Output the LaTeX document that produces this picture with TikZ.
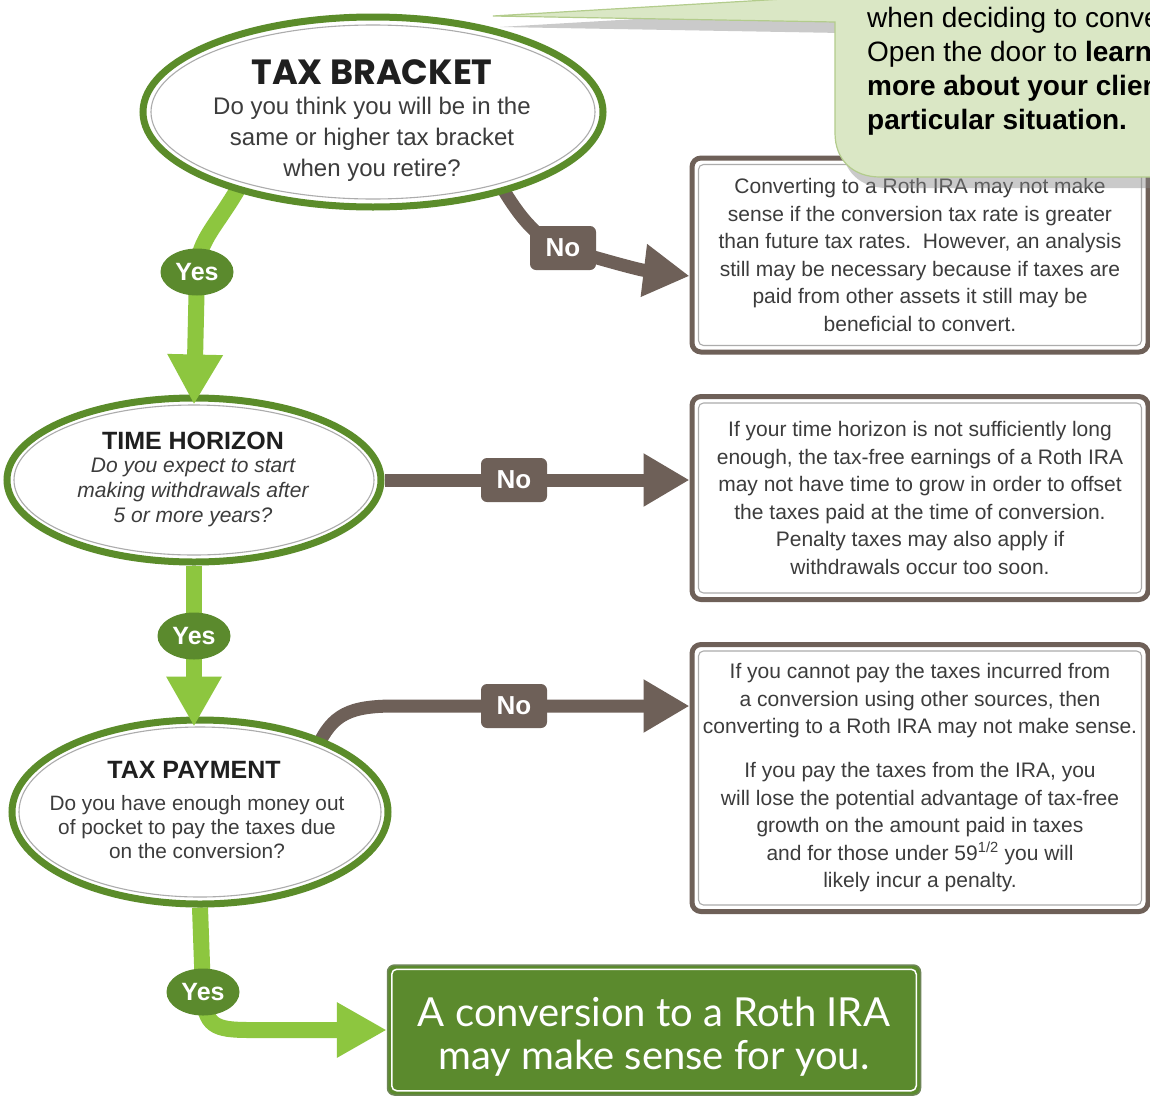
\documentclass[tikz,border=0pt]{standalone}
\usepackage{fontspec}
\setmainfont{Liberation Sans}
\newfontfamily\titlefont{Poppins}
\newfontfamily\finalfont{Lato}
\usetikzlibrary{arrows.meta,calc,shapes.geometric}
\pgfdeclarelayer{background}
\pgfdeclarelayer{front}
\pgfsetlayers{background,main,front}
\definecolor{dgreen}{HTML}{5B8C2A}
\definecolor{lgreen}{HTML}{8DC63F}
\definecolor{ygreen}{HTML}{5B8A2D}
\definecolor{brn}{HTML}{6E6058}
\definecolor{cfill}{HTML}{DAE7C5}
\definecolor{cline}{HTML}{B3CC8C}
\definecolor{shadowc}{HTML}{8A8A8A}
\definecolor{txt}{HTML}{3C3C3C}
\begin{document}
\begin{tikzpicture}[x=1pt,y=-1pt,
  qell/.style={ellipse, draw=dgreen, line width=7pt, fill=white, inner sep=0pt},
  ring/.style={draw=gray!65, line width=1.1pt},
  ttlA/.style={font=\titlefont\bfseries\fontsize{35}{35}\selectfont, text=black!88, inner sep=0pt},
  ttlB/.style={font=\bfseries\fontsize{25}{25}\selectfont, text=black!88, inner sep=0pt},
  qA/.style={font=\fontsize{24}{31}\selectfont, align=center, text=txt, inner sep=0pt},
  qB/.style={font=\itshape\fontsize{21}{25}\selectfont, align=center, text=txt, inner sep=0pt},
  qC/.style={font=\fontsize{20.8}{24}\selectfont, align=center, text=txt, inner sep=0pt},
  infobox/.style={rectangle, rounded corners=9pt, draw=brn, line width=5pt, fill=white,
     minimum width=456pt, align=center, text=txt, inner sep=0pt,
     font=\fontsize{21}{27.5}\selectfont},
  iring/.style={draw=gray!65, line width=1.1pt, rounded corners=5pt},
  yeslab/.style={ellipse, fill=ygreen, text=white, inner sep=0pt, minimum width=73pt,
     minimum height=47pt, font=\bfseries\fontsize{25}{25}\selectfont},
  nolab/.style={rectangle, rounded corners=6pt, fill=brn, text=white, inner sep=0pt,
     minimum width=66pt, minimum height=44pt, font=\bfseries\fontsize{26}{26}\selectfont},
  finalbox/.style={rectangle, rounded corners=7pt, fill=ygreen, draw=gray!50!ygreen,
     line width=1.5pt, minimum width=533pt, minimum height=130pt, inner sep=0pt},
  finaltext/.style={text=white, align=center, inner sep=0pt,
     font=\finalfont\fontsize{40}{43}\selectfont},
  gline/.style={draw=lgreen, line width=16pt},
  garrow/.style={draw=lgreen, line width=16pt, -{Triangle[length=50pt,width=52pt]}},
  bline/.style={draw=brn, line width=13pt},
  barrow/.style={draw=brn, line width=13pt, -{Triangle[length=46pt,width=50pt]}},
  ctext/.style={font=\fontsize{28}{34}\selectfont, text=black, inner sep=0pt, anchor=base west}
]
\useasboundingbox (0,0) rectangle (1150,1095);
\begin{pgfonlayer}{background}
  \fill[white] (0,0) rectangle (1150,1095);
\end{pgfonlayer}

% question ellipses
\node[qell, minimum width=460pt, minimum height=190pt] (tb) at (373,112) {};
\draw[ring] (tb.center) ellipse [x radius=222, y radius=87];
\node[qell, minimum width=374pt, minimum height=164pt] (th) at (194,480) {};
\draw[ring] (th.center) ellipse [x radius=180, y radius=75];
\node[qell, minimum width=376pt, minimum height=184pt] (tp) at (200,812) {};
\draw[ring] (tp.center) ellipse [x radius=181, y radius=85];

\node[ttlA] (tbt) at (372,72) {TAX BRACKET};
\node[qA] (tbq) at (372,139) {Do you think you will be in the\\same or higher tax bracket\\when you retire?};
\node[ttlB] (tht) at (193,441) {TIME HORIZON};
\node[qB] (thq) at (193,492) {Do you expect to start\\making withdrawals after\\5 or more years?};
\node[ttlB] (tpt) at (194,770) {TAX PAYMENT};
\node[qC] (tpq) at (197,827) {Do you have enough money out\\of pocket to pay the taxes due\\on the conversion?};

% answer boxes
\node[infobox, minimum height=194pt] (b1) at (920,255) {Converting to a Roth IRA may not make\\sense if the conversion tax rate is greater\\than future tax rates.\ \ However, an analysis\\still may be necessary because if taxes are\\paid from other assets it still may be\\beneficial to convert.};
\draw[iring] ($(b1.south west)+(9,-9)$) rectangle ($(b1.north east)+(-9,9)$);
\node[infobox, minimum height=203pt] (b2) at (920,498) {If your time horizon is not sufficiently long\\enough, the tax-free earnings of a Roth IRA\\may not have time to grow in order to offset\\the taxes paid at the time of conversion.\\Penalty taxes may also apply if\\withdrawals occur too soon.};
\draw[iring] ($(b2.south west)+(9,-9)$) rectangle ($(b2.north east)+(-9,9)$);
\node[infobox, minimum height=267pt] (b3) at (920,778) {If you cannot pay the taxes incurred from\\a conversion using other sources, then\\converting to a Roth IRA may not make sense.\\[16.5pt]If you pay the taxes from the IRA, you\\will lose the potential advantage of tax-free\\growth on the amount paid in taxes\\and for those under 59\textsuperscript{1/2} you will\\likely incur a penalty.};
\draw[iring] ($(b3.south west)+(9,-9)$) rectangle ($(b3.north east)+(-9,9)$);

% final box
\node[finalbox] (fin) at (654,1030) {};
\draw[white, line width=1.5pt, rounded corners=5pt] ($(fin.south west)+(5,-5)$) rectangle ($(fin.north east)+(-5,5)$);
\node[finaltext] (fint) at (654,1037) {A conversion to a Roth IRA\\may make sense for you.};

% labels
\begin{pgfonlayer}{front}
  \node[yeslab] (y1) at (197,272) {Yes};
  \node[yeslab] (y2) at (194,636) {Yes};
  \node[yeslab] (y3) at (203,992) {Yes};
  \node[nolab] (n1) at (563,248) {No};
  \node[nolab] (n2) at (514,480) {No};
  \node[nolab] (n3) at (514,706) {No};
\end{pgfonlayer}

% connectors
\begin{pgfonlayer}{background}
  \draw[gline] ($(tb.210)+(8,-12)$) .. controls (218,226) and (198,238) .. (y1.center);
  \draw[gline] (th.south) -- (y2.center);
  \draw[gline] (tp.south) -- (y3.center);
  \draw[garrow] (y3.center) .. controls (205,1026) and (214,1030) .. (250,1030) -- (fin.west);
  \draw[bline] ($(tb.-31)+(-8,-10)$) .. controls (522,222) and (540,240) .. (n1.center);
  \draw[barrow] (n1.center) .. controls (610,262) and (640,270) .. ($(b1.west)+(0,21)$);
  \draw[barrow] (th.east) -- (n2.center) -- (n2 -| b2.west);
  \draw[barrow] ($(tp.30)+(-8,8)$) .. controls (332,714) and (350,706) .. (395,706) -- (n3.center) -- (n3 -| b3.west);
\end{pgfonlayer}
\draw[garrow] (y1.center) -- ($(th.north)+(0,10)$);
\draw[garrow] (y2.center) -- ($(y2.center |- tp.north)+(0,10)$);

% callout
\fill[shadowc, opacity=0.45, shift={(7,11)}] (835,-60) -- (835,-4) -- (493,16) -- (835,22) -- (835,133) .. controls (835,160) and (853,177) .. (880,177) -- (1200,177) -- (1200,-60) -- cycle;
\path[fill=cfill, draw=cline, line width=1.2pt] (835,-60) -- (835,-4) -- (493,16) -- (835,22) -- (835,133) .. controls (835,160) and (853,177) .. (880,177) -- (1200,177) -- (1200,-60) -- cycle;
\node[ctext] (c1) at (867,27) {when deciding to convert};
\node[ctext] (c2) at (867,61) {Open the door to \textbf{learn}};
\node[ctext] (c3) at (867,95) {\textbf{more about your client's}};
\node[ctext] (c4) at (867,129) {\textbf{particular situation.}};
\end{tikzpicture}
\end{document}
